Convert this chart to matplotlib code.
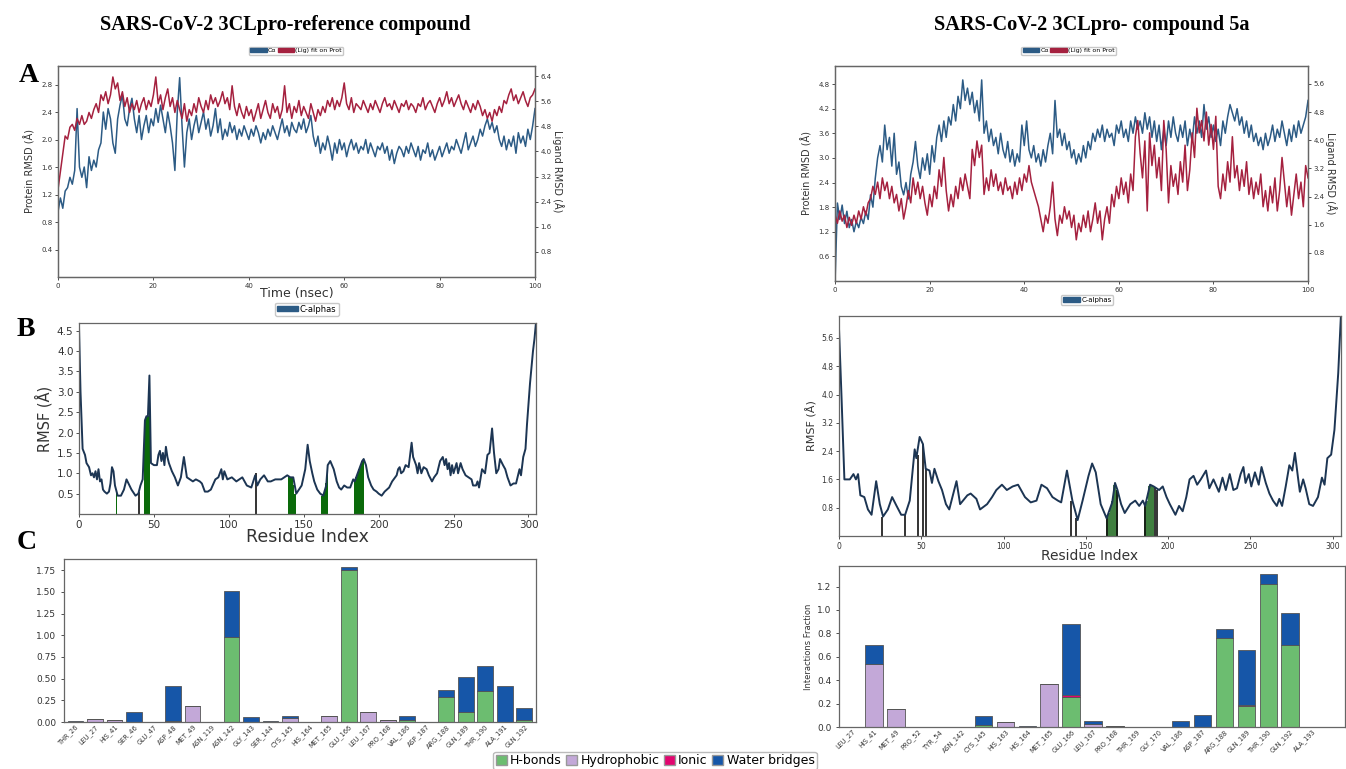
import matplotlib.pyplot as plt
import numpy as np
from matplotlib.patches import Patch

# ---------------- RMSD (A panels), one frame every 0.5 ns ----------------
ref_prot = [0.95, 1.15, 1.0, 1.25, 1.3, 1.45, 1.35, 1.55, 2.45, 1.6, 1.45, 1.6, 1.3, 1.75, 1.55, 1.7, 1.6, 1.85, 1.95, 2.4,
            2.15, 2.45, 2.3, 1.95, 1.8, 2.3, 2.5, 2.65, 2.3, 2.2, 2.45, 2.6, 2.3, 2.1, 2.35, 2.0, 2.2, 2.35, 2.1, 2.3,
            2.2, 2.45, 2.25, 2.5, 2.3, 2.1, 2.4, 2.2, 1.95, 1.55, 2.4, 2.9, 2.2, 1.6, 2.1, 2.3, 2.0, 2.2, 2.35, 2.1,
            2.25, 2.4, 2.15, 2.3, 2.05, 2.2, 2.45, 2.1, 2.3, 2.0, 2.15, 2.05, 2.25, 2.1, 2.2, 2.0, 2.15, 2.05, 2.2, 2.1,
            2.0, 2.15, 2.05, 2.2, 2.1, 1.95, 2.1, 2.0, 2.15, 2.05, 2.2, 2.1, 2.0, 2.15, 2.3, 2.1, 2.2, 2.05, 2.25, 2.15,
            2.1, 2.25, 2.15, 2.3, 2.1, 2.2, 2.35, 2.05, 1.9, 2.05, 1.8, 1.95, 1.85, 2.05, 1.9, 1.7, 1.95, 1.8, 2.0, 1.85,
            1.95, 1.75, 1.9, 2.0, 1.85, 1.95, 1.8, 1.9, 1.85, 2.0, 1.8, 1.95, 1.85, 1.75, 1.9, 1.85, 1.95, 1.8, 1.9, 1.7,
            1.85, 1.65, 1.8, 1.9, 1.85, 1.75, 1.9, 1.8, 1.95, 1.85, 1.75, 1.9, 1.7, 1.85, 1.8, 1.95, 1.75, 1.85, 1.7, 1.8,
            1.9, 1.75, 1.85, 1.95, 1.8, 1.9, 1.85, 2.0, 1.9, 1.8, 1.95, 2.1, 1.85, 1.95, 2.05, 1.9, 2.0, 2.15, 2.05, 2.2,
            2.3, 2.15, 2.25, 2.1, 2.2, 2.0, 1.9, 2.05, 1.85, 2.0, 1.9, 2.05, 1.8, 2.1, 1.95, 2.05, 1.9, 2.15, 2.0, 2.2,
            2.45]
ref_lig = [2.79, 3.36, 3.92, 4.49, 4.39, 4.77, 4.86, 4.67, 5.05, 4.86, 5.14, 4.86, 4.96, 5.24, 5.05, 5.33, 5.52, 5.24, 5.80, 5.62,
           5.90, 5.52, 5.80, 6.37, 5.99, 6.18, 5.62, 5.90, 5.43, 5.71, 5.24, 5.52, 5.33, 5.62, 5.24, 5.52, 5.71, 5.33, 5.62, 5.43,
           5.80, 6.37, 5.52, 5.80, 5.33, 5.71, 5.99, 5.43, 5.71, 5.24, 5.62, 5.33, 5.05, 5.52, 4.96, 5.33, 5.14, 5.52, 5.24, 5.71,
           5.43, 5.24, 5.62, 5.33, 5.80, 5.52, 5.71, 5.43, 5.62, 5.90, 5.52, 5.71, 5.33, 6.09, 5.43, 5.14, 5.52, 5.24, 5.05, 5.43,
           5.14, 5.33, 4.96, 5.24, 5.52, 5.05, 5.33, 5.62, 5.24, 5.05, 5.52, 5.24, 5.43, 5.05, 5.33, 6.09, 5.24, 5.52, 5.05, 5.43,
           5.24, 5.62, 5.14, 5.43, 5.24, 5.05, 5.52, 5.24, 4.96, 5.33, 5.14, 5.43, 5.24, 5.62, 5.43, 5.71, 5.33, 5.62, 5.43, 5.71,
           6.18, 5.52, 5.33, 5.71, 5.24, 5.52, 5.43, 5.33, 5.62, 5.43, 5.24, 5.52, 5.33, 5.62, 5.43, 5.24, 5.52, 5.71, 5.43, 5.52,
           5.33, 5.62, 5.43, 5.24, 5.52, 5.43, 5.62, 5.33, 5.52, 5.43, 5.24, 5.52, 5.43, 5.71, 5.33, 5.52, 5.62, 5.43, 5.24, 5.52,
           5.71, 5.43, 5.62, 5.90, 5.52, 5.71, 5.43, 5.62, 5.80, 5.52, 5.33, 5.62, 5.43, 5.24, 5.52, 5.33, 5.62, 5.43, 5.14, 5.33,
           5.05, 5.24, 4.96, 5.33, 5.14, 5.43, 5.24, 5.62, 5.52, 5.80, 5.99, 5.62, 5.80, 5.52, 5.71, 5.90, 5.62, 5.43, 5.71, 5.80,
           5.99]

c5a_prot = [0.0, 1.9, 1.5, 1.85, 1.4, 1.7, 1.3, 1.5, 1.2, 1.45, 1.3, 1.55, 1.4, 1.7, 1.5, 2.1, 1.8, 2.5, 3.0, 3.3,
            2.9, 3.8, 3.2, 3.5, 2.8, 3.6, 2.6, 2.9, 2.3, 2.1, 2.4, 2.0, 2.6, 2.9, 3.4, 2.8, 2.5, 3.0, 2.7, 3.1,
            2.6, 3.3, 2.9, 3.5, 3.8, 3.4, 3.9, 3.5, 4.0, 3.8, 4.3, 3.9, 4.5, 4.2, 4.9, 4.4, 4.7, 4.3, 4.6, 4.1,
            4.4, 3.9, 4.9, 3.6, 3.9, 3.4, 3.7, 3.3, 3.5, 3.1, 3.6, 3.2, 3.0, 3.4, 2.9, 3.2, 2.8, 3.1, 2.9, 3.8,
            3.3, 3.9, 3.2, 3.0, 3.3, 2.9, 3.1, 2.8, 3.2, 2.9, 3.3, 3.6, 3.1, 4.4, 3.5, 3.7, 3.3, 3.6, 3.2, 3.4,
            3.0, 3.2, 2.85, 3.1, 2.9, 3.3, 3.0, 3.4, 3.2, 3.6, 3.4, 3.7, 3.5, 3.8, 3.4, 3.7, 3.5, 3.6, 3.3, 3.8,
            3.6, 3.9, 3.5, 3.7, 3.4, 3.9, 3.6, 4.0, 3.7, 3.9, 3.6, 4.1, 3.7, 4.0, 3.5, 3.9, 3.4, 3.8, 3.2, 3.7,
            3.3, 3.9, 3.5, 4.0, 3.6, 3.4, 3.8, 3.5, 3.9, 3.3, 3.7, 3.4, 4.0, 3.6, 3.9, 3.5, 4.3, 3.7, 4.0, 3.5,
            3.8, 3.4, 3.7, 3.3, 3.9, 3.6, 4.0, 4.3, 4.1, 3.9, 4.2, 3.8, 4.0, 3.6, 3.9, 3.5, 3.8, 3.4, 3.6, 3.3,
            3.5, 3.2, 3.6, 3.3, 3.5, 3.8, 3.4, 3.7, 3.5, 3.9, 3.6, 3.3, 3.7, 3.4, 3.8, 3.5, 3.9, 3.6, 3.8, 4.0,
            4.4]
c5a_lig = [1.87, 1.64, 1.99, 1.70, 1.87, 1.52, 1.81, 1.58, 1.87, 1.64, 1.99, 1.76, 2.11, 1.87, 2.22, 2.34, 2.69, 2.46, 2.81, 2.34,
           2.93, 2.57, 2.81, 2.34, 2.69, 2.22, 2.46, 1.99, 2.34, 1.76, 2.11, 2.57, 2.22, 2.93, 2.46, 2.81, 2.34, 2.69, 2.22, 1.87,
           2.46, 2.11, 2.69, 2.34, 3.16, 2.69, 3.51, 2.57, 1.99, 2.46, 2.11, 2.69, 2.34, 2.93, 2.57, 3.04, 2.69, 2.34, 3.74, 3.28,
           3.98, 3.51, 3.86, 2.46, 2.93, 2.57, 3.16, 2.69, 3.04, 2.57, 2.81, 2.46, 2.93, 2.57, 2.69, 2.34, 2.81, 2.46, 2.93, 2.57,
           3.04, 2.81, 3.28, 2.81, 2.57, 2.34, 2.11, 1.76, 1.40, 1.87, 1.64, 2.11, 2.81, 1.76, 1.29, 1.87, 1.64, 2.11, 1.76, 1.99,
           1.52, 1.87, 1.17, 1.64, 1.40, 1.87, 1.52, 1.99, 1.40, 1.76, 2.22, 1.64, 1.99, 1.17, 1.76, 2.11, 1.64, 2.46, 2.11, 2.69,
           2.34, 2.93, 2.46, 2.81, 2.22, 3.04, 2.57, 4.10, 4.56, 3.63, 2.93, 3.98, 1.99, 4.21, 3.28, 3.86, 2.93, 3.51, 2.57, 4.56,
           3.74, 2.22, 3.28, 2.69, 3.04, 2.46, 3.39, 2.81, 3.86, 2.57, 3.16, 4.21, 3.51, 4.91, 4.21, 4.56, 3.98, 4.80, 3.86, 4.45,
           3.74, 4.68, 2.69, 2.34, 3.04, 2.57, 3.39, 2.81, 4.10, 2.93, 3.28, 2.57, 3.16, 2.69, 3.39, 2.46, 2.93, 2.34, 2.81, 2.46,
           3.04, 2.11, 2.57, 1.99, 2.69, 2.22, 2.93, 1.99, 2.57, 3.51, 2.81, 2.11, 2.69, 1.87, 2.46, 3.04, 2.34, 2.81, 2.11, 3.28,
           2.93]

# ---------------- RMSF (B panels) ----------------
ref_res = [0, 1, 2.4, 4, 5, 6.7, 8, 9, 10, 11, 12, 13, 14, 15, 16, 17, 18.6, 20, 21, 22, 23, 24, 25.8, 28, 30, 31.7, 33, 35,
           37.7, 39.6, 41, 42.5, 44, 45, 46, 47, 48, 50, 52, 53, 54, 55, 56, 57, 58, 59, 60, 62, 64, 66, 68, 70, 72, 74,
           76, 78, 80.6, 82, 84, 86, 88, 91, 93, 95, 96, 97, 99, 102, 105, 107, 109, 112, 115, 117.6, 119, 121, 123.5,
           126, 128, 131, 135, 137, 139, 141, 143, 145, 148.6, 151, 152.6, 154, 155.7, 157, 159, 161, 163, 165, 166,
           167.7, 170, 172, 173.6, 175, 177, 179, 181, 183, 184, 186, 188, 189, 190, 191.5, 193, 195, 196.6, 198.6, 200,
           202, 204, 207, 209, 212, 213, 214, 215, 216.5, 218, 220, 222, 223, 225, 226, 227, 228.5, 230, 232, 233.5,
           235.6, 237, 239, 241, 242.8, 244, 245, 246, 247, 248, 249, 250, 252, 253, 254.7, 256, 258, 260, 262, 263,
           265, 266, 267, 269, 271, 272.6, 274, 275.7, 277, 278.5, 280, 281, 283, 284.5, 286, 288, 290, 291.7, 293, 294,
           295, 296.5, 298, 299, 301, 303, 304, 305]
ref_rmsf = [4.6, 3.0, 1.6, 1.45, 1.25, 1.15, 0.95, 1.0, 0.9, 1.05, 0.85, 1.1, 0.8, 0.85, 0.6, 0.55, 0.5, 0.55, 0.75, 1.15, 1.05,
            0.7, 0.45, 0.45, 0.6, 0.85, 0.75, 0.6, 0.45, 0.5, 0.7, 0.85, 2.3, 2.4, 2.4, 3.4, 1.25, 1.2, 1.2, 1.45, 1.55, 1.3,
            1.5, 1.2, 1.65, 1.4, 1.25, 1.05, 0.9, 0.7, 0.9, 1.4, 0.9, 0.85, 0.8, 0.85, 0.8, 0.75, 0.55, 0.55, 0.6, 0.85, 0.9,
            1.1, 0.85, 1.05, 0.85, 0.9, 0.8, 0.85, 0.9, 0.7, 0.65, 0.95, 0.7, 0.85, 0.95, 0.8, 0.8, 0.85, 0.85, 0.9, 0.95,
            0.9, 0.9, 0.5, 0.7, 1.1, 1.7, 1.3, 1.0, 0.8, 0.6, 0.5, 0.45, 0.7, 1.2, 1.3, 1.1, 0.8, 0.65, 0.6, 0.7, 0.65, 0.65,
            0.85, 0.8, 1.0, 1.2, 1.3, 1.35, 1.2, 0.9, 0.7, 0.6, 0.55, 0.5, 0.45, 0.55, 0.65, 0.8, 0.95, 1.1, 1.15, 1.0, 1.05,
            1.2, 1.15, 1.75, 1.4, 1.2, 1.0, 1.25, 1.0, 1.15, 1.1, 0.95, 0.8, 0.9, 1.0, 1.3, 1.4, 1.2, 1.35, 1.1, 1.25, 0.95,
            1.2, 1.0, 1.25, 1.0, 1.25, 1.1, 0.95, 0.9, 0.85, 0.7, 0.7, 0.8, 0.65, 1.1, 1.0, 1.45, 1.5, 2.1, 1.5, 1.0, 1.1,
            1.35, 1.2, 1.1, 0.9, 0.7, 0.75, 0.75, 0.95, 1.1, 0.95, 1.4, 1.6, 2.2, 3.2, 4.0, 4.3, 4.7]

c5a_res = [0, 1.5, 3.3, 6.6, 8.8, 10.3, 11.6, 13, 15.4, 17.6, 19.8, 22.6, 24.8, 26.8, 29.7, 32.3, 35, 37.8, 40.2, 43, 46,
           47, 49, 51, 52.7, 55, 56.5, 58, 60.4, 62.6, 65, 67, 71.4, 73.6, 78, 80, 83.5, 85.7, 90, 93, 95.6, 99, 102,
           105.5, 108.8, 113, 116.5, 120, 123, 126.4, 129.7, 133, 135, 138.5, 141.8, 145, 148, 151.6, 153.8, 156, 159,
           162.6, 166, 167.7, 169.2, 171.4, 173.6, 177, 180, 182.4, 184.6, 186, 189, 191.2, 194.5, 196.7, 199, 201,
           204.4, 206.6, 208.8, 211, 213, 215.4, 217.6, 219.8, 223, 225, 227.5, 230.8, 233, 235, 237.4, 239.6, 241.8,
           244, 245.7, 247, 249, 250.5, 252.7, 255, 256.7, 259.3, 261.5, 263.7, 266, 267.5, 269.2, 271.4, 273.6, 275.4,
           277, 279, 280, 282, 283.5, 285.7, 288, 291, 293.4, 295, 296.7, 299, 301, 303.3, 305]
c5a_rmsf = [5.9, 4.0, 1.6, 1.6, 1.75, 1.6, 1.75, 1.15, 1.1, 0.75, 0.6, 1.55, 0.9, 0.55, 0.75, 1.1, 0.85, 0.6, 0.6, 1.0, 2.45,
            2.2, 2.8, 2.6, 1.9, 1.85, 1.5, 1.9, 1.55, 1.3, 0.9, 0.75, 1.55, 0.9, 1.15, 1.2, 1.05, 0.75, 0.9, 1.1, 1.3, 1.45,
            1.3, 1.4, 1.45, 1.1, 0.95, 1.0, 1.45, 1.35, 1.1, 1.0, 0.95, 1.85, 1.0, 0.45, 1.0, 1.7, 2.05, 1.8, 0.9, 0.5,
            0.95, 1.5, 1.3, 0.9, 0.65, 0.9, 1.0, 0.85, 1.0, 0.85, 1.45, 1.4, 1.3, 1.4, 1.1, 0.9, 0.6, 0.85, 0.7, 1.1, 1.6,
            1.7, 1.45, 1.6, 1.85, 1.35, 1.6, 1.25, 1.65, 1.3, 1.75, 1.3, 1.35, 1.75, 1.95, 1.5, 1.75, 1.4, 1.8, 1.45, 1.95,
            1.5, 1.2, 1.0, 0.85, 1.05, 0.85, 1.4, 2.0, 1.85, 2.35, 1.6, 1.25, 1.6, 1.35, 0.9, 0.85, 1.1, 1.65, 1.45, 2.2,
            2.3, 3.0, 4.6, 6.3]

# ligand-contact residues drawn under the RMSF curve
ref_green_res = [25, 44, 45, 46, 47, 140, 141, 142, 143, 144, 162, 163, 164, 165, 166,
                 184, 185, 186, 187, 188, 189, 190]
ref_green_h = [0.6, 2.3, 2.4, 2.4, 3.4, 0.9, 0.9, 0.9, 0.7, 0.5, 0.45, 0.5, 0.6, 0.75, 1.2,
               0.8, 0.9, 1.0, 1.1, 1.2, 1.3, 1.35]
ref_line_res = [40, 118]
ref_line_h = [0.55, 1.0]
c5a_green_res = [163, 164, 165, 166, 167, 168, 169, 186, 187, 188, 189, 190, 191]
c5a_green_h = [0.55, 0.65, 0.85, 1.0, 1.45, 1.5, 1.3, 0.9, 1.0, 1.4, 1.45, 1.45, 1.4]
c5a_line_res = [26, 40, 48, 51, 53, 141, 144, 163, 169, 186, 192, 193]
c5a_line_h = [0.55, 0.6, 2.3, 2.6, 1.9, 1.0, 0.5, 0.55, 1.3, 0.9, 1.35, 1.3]

# ---------------- Interaction fractions (C panels) ----------------
ref_names = ['THR_26', 'LEU_27', 'HIS_41', 'SER_46', 'GLU_47', 'ASP_48', 'MET_49', 'ASN_119', 'ASN_142',
             'GLY_143', 'SER_144', 'CYS_145', 'HIS_164', 'MET_165', 'GLU_166', 'LEU_167', 'PRO_168', 'VAL_186',
             'ASP_187', 'ARG_188', 'GLN_189', 'THR_190', 'ALA_191', 'GLN_192']
ref_hb = [0, 0, 0, 0, 0, 0.01, 0, 0, 0.98, 0, 0, 0, 0, 0, 1.75, 0, 0, 0.02, 0, 0.29, 0.12, 0.36, 0, 0.02]
ref_hp = [0, 0.03, 0.02, 0, 0, 0, 0.18, 0, 0, 0, 0, 0.05, 0, 0.07, 0, 0.12, 0.02, 0, 0, 0, 0, 0, 0, 0]
ref_io = [0] * 24
ref_wb = [0.01, 0, 0, 0.12, 0, 0.41, 0, 0, 0.53, 0.06, 0.01, 0.02, 0, 0, 0.04, 0, 0, 0.05, 0, 0.08, 0.40, 0.29,
          0.42, 0.14]

c5a_names = ['LEU_27', 'HIS_41', 'MET_49', 'PRO_52', 'TYR_54', 'ASN_142', 'CYS_145', 'HIS_163', 'HIS_164',
             'MET_165', 'GLU_166', 'LEU_167', 'PRO_168', 'THR_169', 'GLY_170', 'VAL_186', 'ASP_187', 'ARG_188',
             'GLN_189', 'THR_190', 'GLN_192', 'ALA_193']
c5a_hb = [0, 0, 0, 0, 0, 0, 0.02, 0, 0, 0, 0.26, 0, 0, 0, 0, 0, 0, 0.76, 0.18, 1.22, 0.70, 0]
c5a_hp = [0, 0.54, 0.15, 0, 0, 0, 0, 0.04, 0, 0.37, 0, 0.03, 0.005, 0, 0, 0, 0, 0, 0, 0, 0, 0]
c5a_io = [0, 0, 0, 0, 0, 0, 0, 0, 0, 0, 0.01, 0, 0, 0, 0, 0, 0, 0, 0.01, 0, 0, 0]
c5a_wb = [0, 0.16, 0, 0, 0, 0, 0.07, 0, 0.01, 0, 0.61, 0.02, 0, 0, 0, 0.05, 0.10, 0.08, 0.47, 0.09, 0.27, 0]

BLUE = '#2c5b85'
RED = '#a5213f'
NAVY = '#1c3553'
C_HB, C_HP, C_IO, C_WB = '#6cbd70', '#c3a8d8', '#e2056f', '#1656a8'
TICK = '#333333'
SERIF = ['Liberation Serif', 'DejaVu Serif']


def rmsd_panel(fig, rect, prot, lig, lim_p, lim_l, ticks_p, ticks_l, with_xlabel):
    ax = fig.add_axes(rect)
    ax.plot(np.linspace(0, 100, len(prot)), prot, color=BLUE, lw=1.1)
    ax.set_xlim(0, 100)
    ax.set_ylim(*lim_p)
    ax.set_xticks([0, 20, 40, 60, 80, 100])
    ax.set_yticks(ticks_p)
    ax.set_yticklabels(['%.1f' % v for v in ticks_p])
    ax.set_ylabel('Protein RMSD (Å)', fontsize=7, color=TICK, labelpad=4)
    ax2 = ax.twinx()
    ax2.plot(np.linspace(0, 100, len(lig)), lig, color=RED, lw=1.1)
    ax2.set_ylim(*lim_l)
    ax2.set_yticks(ticks_l)
    ax2.set_yticklabels(['%.1f' % v for v in ticks_l])
    ax2.set_ylabel('Ligand RMSD (Å)', fontsize=7, color=TICK, rotation=270, labelpad=9)
    for a in (ax, ax2):
        a.tick_params(labelsize=5, colors=TICK, length=2, width=0.6, pad=2)
        for s in a.spines.values():
            s.set_color('#666666')
            s.set_linewidth(0.9)
    if with_xlabel:
        ax.set_xlabel('Time (nsec)', fontsize=9, color=TICK, labelpad=-1)
    return ax


def rmsf_panel(fig, rect, res, rmsf, ylim, yticks, g_res, g_h, l_res, l_h, green, tsize, xl_size):
    ax = fig.add_axes(rect)
    ax.bar(g_res, g_h, width=1.0, color=green, linewidth=0)
    ax.vlines(l_res, 0, l_h, color='#111111', lw=1.2)
    ax.plot(res, rmsf, color=NAVY, lw=1.4)
    ax.set_xlim(0, 305)
    ax.set_ylim(*ylim)
    ax.set_xticks([0, 50, 100, 150, 200, 250, 300])
    ax.set_yticks(yticks)
    ax.set_yticklabels(['%.1f' % v for v in yticks])
    ax.tick_params(labelsize=tsize, colors=TICK, length=2, width=0.6, pad=2)
    ax.set_xlabel('Residue Index', fontsize=xl_size, color=TICK, labelpad=-1)
    ax.set_ylabel('RMSF (Å)', fontsize=xl_size - 2, color=TICK, labelpad=3)
    for s in ax.spines.values():
        s.set_color('#666666')
        s.set_linewidth(0.9)
    return ax


def contacts_panel(fig, rect, names, hb, hp, io, wb, yticks, fmt, xlim):
    ax = fig.add_axes(rect)
    x = np.arange(len(names))
    hb, hp, io, wb = map(np.array, (hb, hp, io, wb))
    kw = dict(width=0.8, edgecolor='#555555', linewidth=0.6)
    ax.bar(x, hb, color=C_HB, **kw)
    ax.bar(x, hp, bottom=hb, color=C_HP, **kw)
    ax.bar(x, io, bottom=hb + hp, color=C_IO, **kw)
    ax.bar(x, wb, bottom=hb + hp + io, color=C_WB, **kw)
    tot = (hb + hp + io + wb).max()
    ax.set_ylim(0, tot * 1.05)
    ax.set_xlim(*xlim)
    ax.set_xticks(x)
    ax.set_xticklabels(names, rotation=45, ha='right', rotation_mode='anchor', fontsize=4.8, color=TICK)
    ax.set_yticks(yticks)
    ax.set_yticklabels([fmt % v for v in yticks])
    ax.tick_params(axis='y', labelsize=6.5, colors=TICK, length=2, width=0.6)
    ax.tick_params(axis='x', length=0, pad=1)
    for s in ax.spines.values():
        s.set_color('#666666')
        s.set_linewidth(0.9)
    return ax


fig = plt.figure(figsize=(13.46, 7.69), dpi=100)

fig.text(0.212, 0.968, 'SARS-CoV-2 3CLpro-reference compound', ha='center', va='center',
         fontsize=14.6, fontweight='bold', family=SERIF)
fig.text(0.811, 0.968, 'SARS-CoV-2 3CLpro- compound 5a', ha='center', va='center',
         fontsize=14.6, fontweight='bold', family=SERIF)
fig.text(0.014, 0.902, 'A', fontsize=20, fontweight='bold', family=SERIF, va='center')
fig.text(0.012, 0.571, 'B', fontsize=20, fontweight='bold', family=SERIF, va='center')
fig.text(0.012, 0.294, 'C', fontsize=20, fontweight='bold', family=SERIF, va='center')

rmsd_panel(fig, [0.0431, 0.6398, 0.3544, 0.2744], ref_prot, ref_lig, (0, 3.07), (0, 6.72),
           [0.4, 0.8, 1.2, 1.6, 2.0, 2.4, 2.8], [0.8, 1.6, 2.4, 3.2, 4.0, 4.8, 5.6, 6.4], True)
rmsd_panel(fig, [0.6204, 0.6346, 0.3514, 0.2796], c5a_prot, c5a_lig, (0, 5.24), (0, 6.11),
           [0.6, 1.2, 1.8, 2.4, 3.0, 3.6, 4.2, 4.8], [0.8, 1.6, 2.4, 3.2, 4.0, 4.8, 5.6], False)

rmd_handles = [Patch(facecolor=BLUE, edgecolor=BLUE, label='Cα'),
               Patch(facecolor=RED, edgecolor=RED, label='(Lig) fit on Prot')]
for cx in (0.22, 0.794):
    fig.legend(handles=rmd_handles, loc='center', bbox_to_anchor=(cx, 0.934), ncol=2, fontsize=4.5,
               handlelength=2.6, handleheight=0.6, handletextpad=0.2, columnspacing=0.2,
               borderpad=0.25, frameon=True, edgecolor='#bbbbbb', fancybox=True)

rmsf_panel(fig, [0.0587, 0.3316, 0.3395, 0.2484], ref_res, ref_rmsf, (0, 4.69),
           [0.5, 1.0, 1.5, 2.0, 2.5, 3.0, 3.5, 4.0, 4.5], ref_green_res, ref_green_h, ref_line_res,
           ref_line_h, '#0a6a0a', 7.5, 12.5)
rmsf_panel(fig, [0.6233, 0.3030, 0.3730, 0.2861], c5a_res, c5a_rmsf, (0, 6.22),
           [0.8, 1.6, 2.4, 3.2, 4.0, 4.8, 5.6], c5a_green_res, c5a_green_h, c5a_line_res,
           c5a_line_h, '#3f7f3f', 5.5, 10)

ca_handle = [Patch(facecolor=BLUE, edgecolor=BLUE, label='C-alphas')]
fig.legend(handles=ca_handle, loc='center', bbox_to_anchor=(0.228, 0.598), fontsize=6,
           handlelength=2.5, handleheight=0.6, handletextpad=0.2, borderpad=0.25, edgecolor='#bbbbbb')
fig.legend(handles=ca_handle, loc='center', bbox_to_anchor=(0.8076, 0.610), fontsize=5,
           handlelength=2.5, handleheight=0.6, handletextpad=0.2, borderpad=0.25, edgecolor='#bbbbbb')

contacts_panel(fig, [0.0475, 0.0611, 0.3507, 0.2120], ref_names, ref_hb, ref_hp, ref_io, ref_wb,
               [0, 0.25, 0.5, 0.75, 1.0, 1.25, 1.5, 1.75], '%.2f', (-0.6, 23.6))
axc = contacts_panel(fig, [0.6233, 0.0546, 0.3759, 0.2094], c5a_names, c5a_hb, c5a_hp, c5a_io, c5a_wb,
                     [0, 0.2, 0.4, 0.6, 0.8, 1.0, 1.2], '%.1f', (-0.6, 22.5))
axc.set_ylabel('Interactions Fraction', fontsize=6, color=TICK, labelpad=3)

int_handles = [Patch(facecolor=C_HB, edgecolor='#999999', label='H-bonds'),
               Patch(facecolor=C_HP, edgecolor='#999999', label='Hydrophobic'),
               Patch(facecolor=C_IO, edgecolor='#999999', label='Ionic'),
               Patch(facecolor=C_WB, edgecolor='#999999', label='Water bridges')]
fig.legend(handles=int_handles, loc='center', bbox_to_anchor=(0.4866, 0.0105), ncol=4, fontsize=9,
           handlelength=0.9, handleheight=0.9, handletextpad=0.25, columnspacing=0.35, borderpad=0.2,
           edgecolor='#aaaaaa')

fig.savefig('out.png', dpi=100)
